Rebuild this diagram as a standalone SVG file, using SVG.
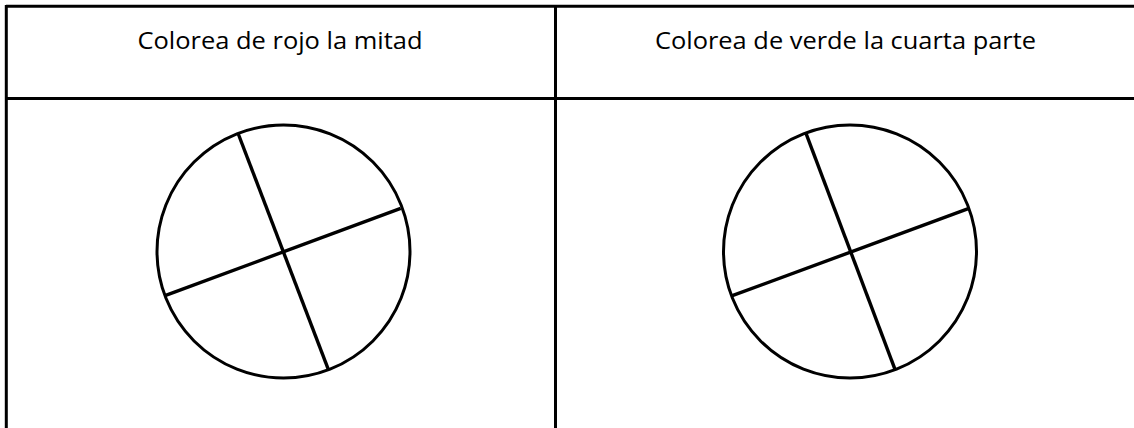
<svg xmlns="http://www.w3.org/2000/svg" width="1134" height="428" viewBox="0 0 1134 428">
<style>
.grid{stroke:#000;stroke-width:3;fill:none}
.lbl{font-family:"Open Sans","Liberation Sans",sans-serif;font-size:23.5px;fill:#000;text-anchor:middle}
.circ{stroke:#000;stroke-width:3;fill:#fff}
.div{stroke:#000;stroke-width:3.4;fill:none;stroke-linecap:butt}
</style>
<rect width="1134" height="428" fill="#fff"/>
<g id="table">
<line class="grid" x1="6" y1="6.3" x2="1134" y2="6.3"/>
<line class="grid" x1="6.3" y1="5" x2="6.3" y2="428"/>
<line class="grid" x1="555.5" y1="6" x2="555.5" y2="428"/>
<line class="grid" x1="6" y1="98.5" x2="1134" y2="98.5"/>
</g>
<g id="label-left">
<text class="lbl" x="280" y="48.5" textLength="285" lengthAdjust="spacingAndGlyphs">Colorea de rojo la mitad</text>
</g>
<g id="label-right">
<text class="lbl" x="845.5" y="48.5" textLength="381" lengthAdjust="spacingAndGlyphs">Colorea de verde la cuarta parte</text>
</g>
<g id="circle-left">
<circle class="circ" cx="283.5" cy="251.5" r="126.5"/>
<line class="div" x1="238.3" y1="134" x2="328.3" y2="369.3"/>
<line class="div" x1="165" y1="295.7" x2="400.7" y2="208.3"/>
</g>
<g id="circle-right">
<circle class="circ" cx="850" cy="251.5" r="126.5"/>
<line class="div" x1="806" y1="133.3" x2="895" y2="369.3"/>
<line class="div" x1="732.3" y1="295.7" x2="968.3" y2="208.7"/>
</g>
<g id="connectors"></g>
</svg>
